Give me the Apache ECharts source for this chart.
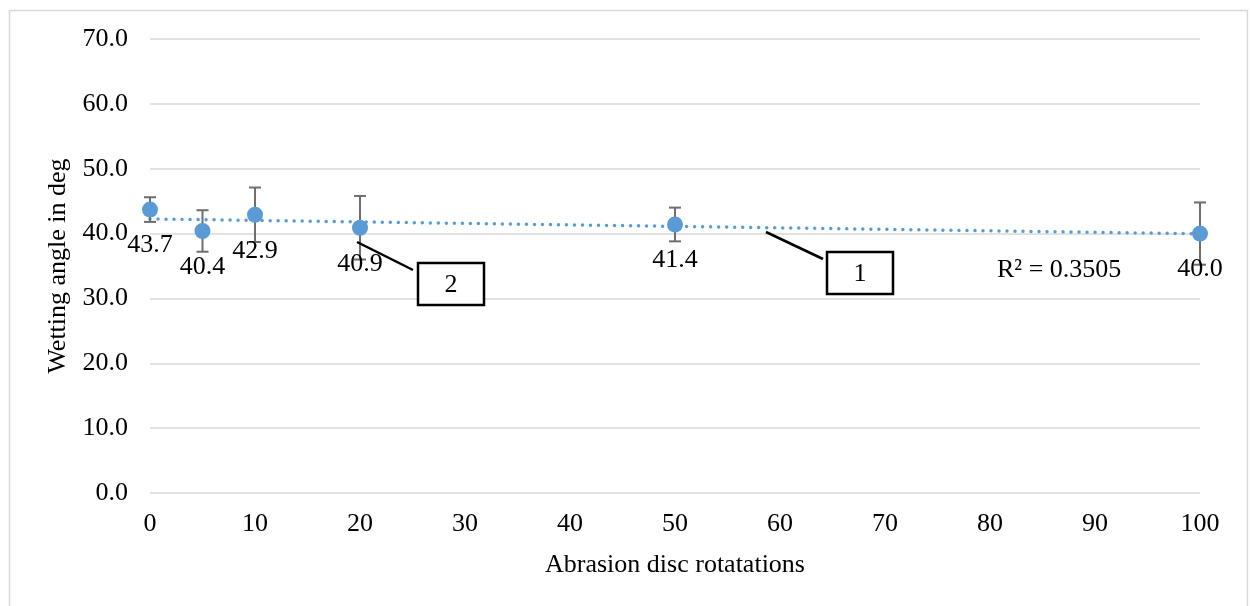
<!DOCTYPE html>
<html><head><meta charset="utf-8">
<script src="https://cdn.jsdelivr.net/npm/echarts@6/dist/echarts.min.js"></script>
<style>html,body{margin:0;padding:0;background:#fff}#c{width:1251px;height:606px}</style>
</head><body><div id="c"></div>
<script>
const rotations = [0, 5, 10, 20, 50, 100];
const angles = [43.7, 40.4, 42.9, 40.9, 41.4, 40.0];
const errors = [1.9, 3.2, 4.2, 4.9, 2.6, 4.8];
const yTicks = [0, 10, 20, 30, 40, 50, 60, 70];
const r2Text = 'R² = 0.3505';

// linear regression trend line from the data
const n = rotations.length;
const mx = rotations.reduce((a,b)=>a+b,0)/n;
const my = angles.reduce((a,b)=>a+b,0)/n;
let sxy=0,sxx=0;
for(let i=0;i<n;i++){sxy+=(rotations[i]-mx)*(angles[i]-my);sxx+=(rotations[i]-mx)**2;}
const slope=sxy/sxx, icpt=my-slope*mx;
const trend=[[0,icpt],[100,icpt+slope*100]];

const font='"Liberation Serif", "Times New Roman", serif';
const fs=26;
const chart = echarts.init(document.getElementById('c'));
chart.setOption({
  animation:false,
  textStyle:{fontFamily:font},
  grid:{left:150,right:51,top:39,bottom:113},
  xAxis:{type:'value',min:0,max:100,interval:10,
    name:'Abrasion disc rotatations',nameLocation:'middle',nameGap:59,
    nameTextStyle:{fontFamily:font,fontSize:fs,color:'#000'},
    axisLine:{show:false},axisTick:{show:false},splitLine:{show:false},
    axisLabel:{fontFamily:font,fontSize:fs,color:'#000',margin:18}},
  yAxis:{type:'value',min:0,max:70,interval:10,
    name:'Wetting angle in deg',nameLocation:'middle',nameGap:67,
    nameTextStyle:{fontFamily:font,fontSize:fs,color:'#000'},
    axisLine:{show:false},axisTick:{show:false},
    splitLine:{lineStyle:{color:'#d9d9d9',width:1.5}},
    axisLabel:{fontFamily:font,fontSize:fs,color:'#000',margin:22,formatter:v=>v.toFixed(1)}},
  series:[
    {type:'line',data:trend,symbol:'none',z:2,
      lineStyle:{color:'#5b9bd5',width:3.5,type:[0.01,8],cap:'round'}},
    {type:'custom',z:3,data:rotations.map((x,i)=>[x,angles[i]-errors[i],angles[i]+errors[i]]),
      renderItem:(p,api)=>{
        const lo=api.coord([api.value(0),api.value(1)]);
        const hi=api.coord([api.value(0),api.value(2)]);
        const s={stroke:'#6e6e6e',lineWidth:2};
        return {type:'group',children:[
          {type:'line',shape:{x1:lo[0],y1:lo[1],x2:hi[0],y2:hi[1]},style:s},
          {type:'line',shape:{x1:lo[0]-6,y1:lo[1],x2:lo[0]+6,y2:lo[1]},style:s},
          {type:'line',shape:{x1:hi[0]-6,y1:hi[1],x2:hi[0]+6,y2:hi[1]},style:s}]};
      }},
    {type:'scatter',z:4,data:rotations.map((x,i)=>[x,angles[i]]),symbolSize:16,
      itemStyle:{color:'#5b9bd5',opacity:1},
      label:{show:true,position:'bottom',distance:15,fontFamily:font,fontSize:fs,color:'#000',
        formatter:p=>p.value[1].toFixed(1)}}
  ],
  graphic:[
    {type:'rect',shape:{x:9.5,y:10.5,width:1238,height:620},style:{fill:'none',stroke:'#d9d9d9',lineWidth:1.5},z:0},
    {type:'text',x:997,y:270,z:100,style:{text:r2Text,font:fs+'px '+font,fill:'#000',verticalAlign:'middle'}},
    {type:'line',z:100,shape:{x1:357,y1:242,x2:413,y2:270},style:{stroke:'#000',lineWidth:2.5}},
    {type:'rect',z:100,shape:{x:418,y:263,width:66,height:42},style:{fill:'#fff',stroke:'#000',lineWidth:2.5}},
    {type:'text',z:101,x:451,y:285,style:{text:'2',font:fs+'px '+font,fill:'#000',align:'center',verticalAlign:'middle'}},
    {type:'line',z:100,shape:{x1:766,y1:232,x2:823,y2:259},style:{stroke:'#000',lineWidth:2.5}},
    {type:'rect',z:100,shape:{x:827,y:252,width:66,height:42},style:{fill:'#fff',stroke:'#000',lineWidth:2.5}},
    {type:'text',z:101,x:860,y:274,style:{text:'1',font:fs+'px '+font,fill:'#000',align:'center',verticalAlign:'middle'}}
  ]
});
</script></body></html>
